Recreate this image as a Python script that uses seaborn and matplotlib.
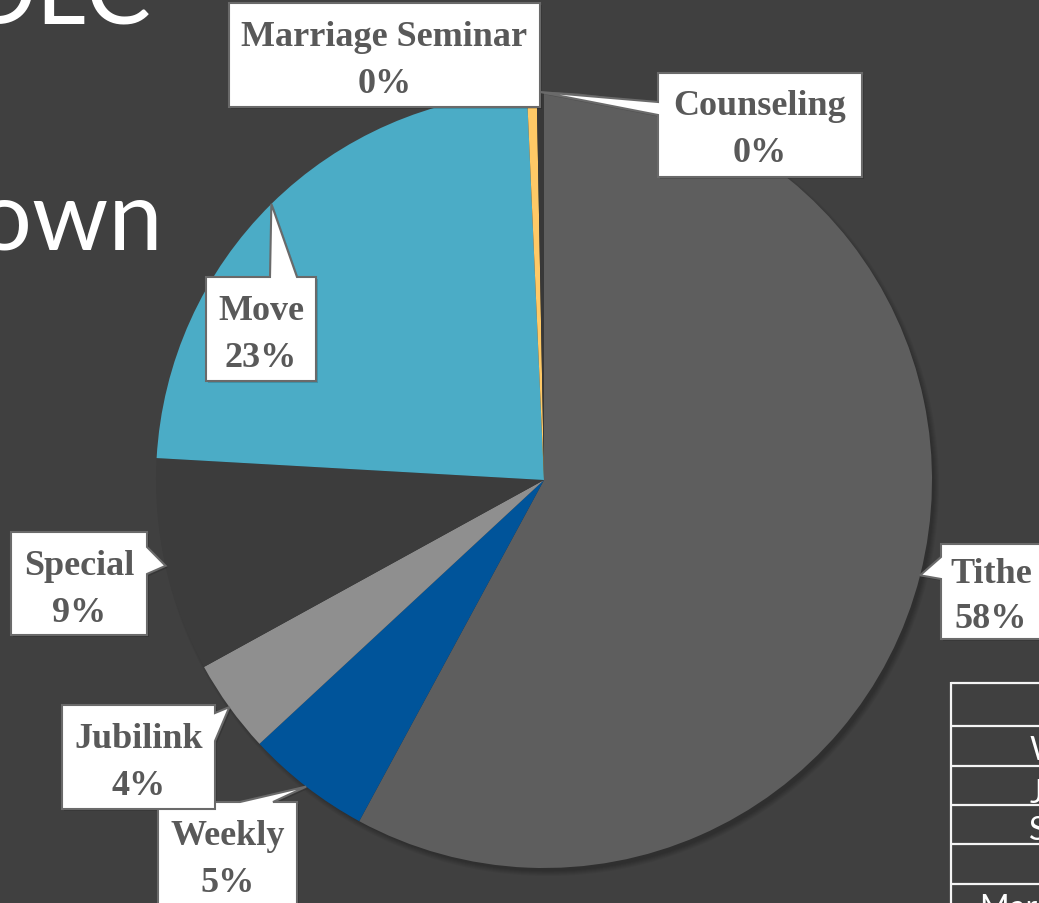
import matplotlib
matplotlib.use("Agg")
import numpy as np
import matplotlib.pyplot as plt
import seaborn as sns
from matplotlib.patches import Polygon, Circle

# ---------------- data ----------------
categories = ["Tithe", "Weekly", "Jubilink", "Special", "Move", "Marriage Seminar", "Counseling"]
values = [57.9, 5.2, 3.9, 8.9, 23.4, 0.4, 0.3]
pct_labels = ["58%", "5%", "4%", "9%", "23%", "0%", "0%"]
table_rows = ["", "Weekly", "Jubilink", "Special", "", "Marriage Seminar"]
title_top = "DLC"
title_mid = "Breakdown"

# ---------------- style ----------------
colors = ["#5E5E5E", "#00549A", "#8F8F8F", "#3C3C3C", "#4BACC6", "#FFC966", "#383838"]
BG = "#404040"
LABEL_COLOR = "#595959"
W, H = 1039, 904

sns.set_theme(style="dark", rc={"figure.facecolor": BG, "axes.facecolor": BG,
                                "savefig.facecolor": BG})
plt.rcParams["font.family"] = ["DejaVu Sans"]

fig = plt.figure(figsize=(W / 100, H / 100), dpi=100)
ax = fig.add_axes([0, 0, 1, 1])
ax.set_facecolor(BG)

cx, cy, R = 544, 481, 388

# soft shadow behind the pie (mostly lower right)
for k in range(6):
    ax.add_patch(Circle((cx + 4, cy + 5), R + 3 - k, color="black", alpha=0.04,
                        lw=0, zorder=1))

wedges, _ = ax.pie(values, colors=colors, startangle=-90, counterclock=True,
                   radius=R, center=(cx, cy), frame=False,
                   wedgeprops=dict(linewidth=0, zorder=2))
for w in wedges:
    w.set_zorder(2)

ax.set_xlim(0, W)
ax.set_ylim(H, 0)
ax.set_aspect("auto")
ax.axis("off")

# ---------------- callouts ----------------
# box (x0, y0, x1, y1), pointer side, pointer base (a, b), baseline offsets
layout = {
    "Tithe": ((941, 545, 1041, 640), "left", (558, 580), (38, 83)),
    "Weekly": ((158, 803, 297, 930), "top", (240, 273), (42, 89)),
    "Jubilink": ((62, 706, 215, 810), "right", (714, 742), (42, 89)),
    "Special": ((11, 533, 147, 636), "right", (548, 575), (42, 89)),
    "Move": ((206, 278, 316, 382), "top", (270, 297), (42, 89)),
    "Marriage Seminar": ((229, 4, 540, 108), None, None, (42, 89)),
    "Counseling": ((658, 74, 862, 178), "left", (103, 116), (41, 88)),
}


def callout_poly(box, side, base, tip):
    x0, y0, x1, y1 = box
    pts = [(x0, y0)]
    if side == "top":
        pts += [(base[0], y0), tip, (base[1], y0)]
    pts.append((x1, y0))
    if side == "right":
        pts += [(x1, base[0]), tip, (x1, base[1])]
    pts.append((x1, y1))
    if side == "bottom":
        pts += [(base[1], y1), tip, (base[0], y1)]
    pts.append((x0, y1))
    if side == "left":
        pts += [(x0, base[1]), tip, (x0, base[0])]
    return pts


for w, cat, pct in zip(wedges, categories, pct_labels):
    box, side, base, offs = layout[cat]
    mid = np.deg2rad((w.theta1 + w.theta2) / 2)
    tip = (cx + R * np.cos(mid), cy + R * np.sin(mid))
    pts = callout_poly(box, side, base, tip)
    shadow = [(x + 2, y + 2) for x, y in pts]
    ax.add_patch(Polygon(shadow, closed=True, facecolor="black", alpha=0.15,
                         lw=0, zorder=4))
    ax.add_patch(Polygon(pts, closed=True, facecolor="white", edgecolor="#6A6A6A",
                         lw=1.5, zorder=5, joinstyle="miter"))
    tx = (box[0] + box[2]) / 2
    ax.text(tx, box[1] + offs[0], cat, ha="center", va="baseline",
            family="Liberation Serif", weight="bold", fontsize=26,
            color=LABEL_COLOR, zorder=6)
    ax.text(tx, box[1] + offs[1], pct, ha="center", va="baseline",
            family="Liberation Serif", weight="bold", fontsize=26,
            color=LABEL_COLOR, zorder=6)

# ---------------- slide title fragments ----------------
ax.text(151, 24, title_top, ha="right", va="baseline", family="Lato",
        weight="normal", fontsize=70, color="white", zorder=3)
ax.text(163, 250, title_mid, ha="right", va="baseline", family="Lato",
        weight="normal", fontsize=70, color="white", zorder=3)

# ---------------- partial table (bottom right) ----------------
row_lines = [684, 727, 767, 806, 845, 885]
ax.plot([951, 951], [683, H + 5], color="#F4F4F4", lw=1.6, zorder=3,
        solid_capstyle="butt")
for yl in row_lines:
    ax.plot([951, W + 5], [yl, yl], color="#F4F4F4", lw=1.6, zorder=3,
            solid_capstyle="butt")
row_text_pos = [(1045, 710), (1030, 760), (1030, 803), (1029, 840), (1045, 870), (980, 918)]
for txt, (x, y) in zip(table_rows, row_text_pos):
    ax.text(x, y, txt, ha="left", va="baseline", family="Lato", weight="normal",
            fontsize=23, color="white", zorder=3)

fig.savefig("out.png", dpi=100, facecolor=BG)
